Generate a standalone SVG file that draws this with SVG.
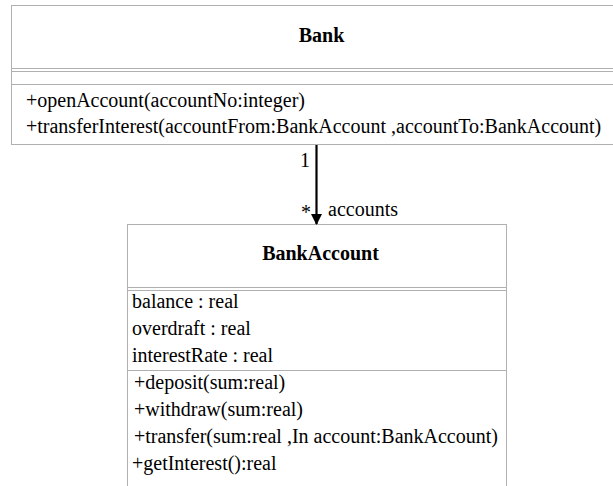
<svg xmlns="http://www.w3.org/2000/svg" width="613" height="486" viewBox="0 0 613 486">
<style>
.box{fill:#fff;stroke:#b0b0b0;stroke-width:1}
.sep{stroke:#b0b0b0;stroke-width:1}
.txt{font-family:'Liberation Serif',serif;font-size:20px;fill:#000}
.title{font-weight:bold;text-anchor:middle}
.conn{stroke:#000;stroke-width:2.2}
</style>
<defs>
<marker id="arrow" markerWidth="12" markerHeight="12" refX="10" refY="5.5" orient="auto" markerUnits="userSpaceOnUse">
<path d="M0,0 L11,5.5 L0,11 z" fill="#000"/>
</marker>
</defs>
<g id="Bank">
<rect class="box" x="11.5" y="5.5" width="620" height="139"/>
<line class="sep" x1="11.5" y1="68.5" x2="631" y2="68.5"/>
<line class="sep" x1="11.5" y1="71.5" x2="631" y2="71.5"/>
<line class="sep" x1="11.5" y1="84.5" x2="631" y2="84.5"/>
<g class="txt">
<text class="title" x="321.5" y="42">Bank</text>
<text x="26" y="107">+openAccount(accountNo:integer)</text>
<text x="26" y="133">+transferInterest(accountFrom:BankAccount ,accountTo:BankAccount)</text>
</g>
</g>
<g id="BankAccount">
<rect class="box" x="127.5" y="224.5" width="379" height="280"/>
<line class="sep" x1="127.5" y1="287.5" x2="506.5" y2="287.5"/>
<line class="sep" x1="127.5" y1="290.5" x2="506.5" y2="290.5"/>
<line class="sep" x1="127.5" y1="370.5" x2="506.5" y2="370.5"/>
<g class="txt">
<text class="title" x="320.5" y="260">BankAccount</text>
<text x="132" y="308">balance : real</text>
<text x="132" y="335">overdraft : real</text>
<text x="132" y="362">interestRate : real</text>
<text x="134" y="389">+deposit(sum:real)</text>
<text x="134" y="416">+withdraw(sum:real)</text>
<text x="134" y="443">+transfer(sum:real ,In account:BankAccount)</text>
<text x="132" y="470">+getInterest():real</text>
</g>
</g>
<g id="connectors">
<line class="conn" x1="316.5" y1="145" x2="316.5" y2="224" marker-end="url(#arrow)"/>
<g class="txt">
<text x="300" y="167">1</text>
<text x="301" y="219">*</text>
<text x="328" y="216">accounts</text>
</g>
</g>
</svg>
